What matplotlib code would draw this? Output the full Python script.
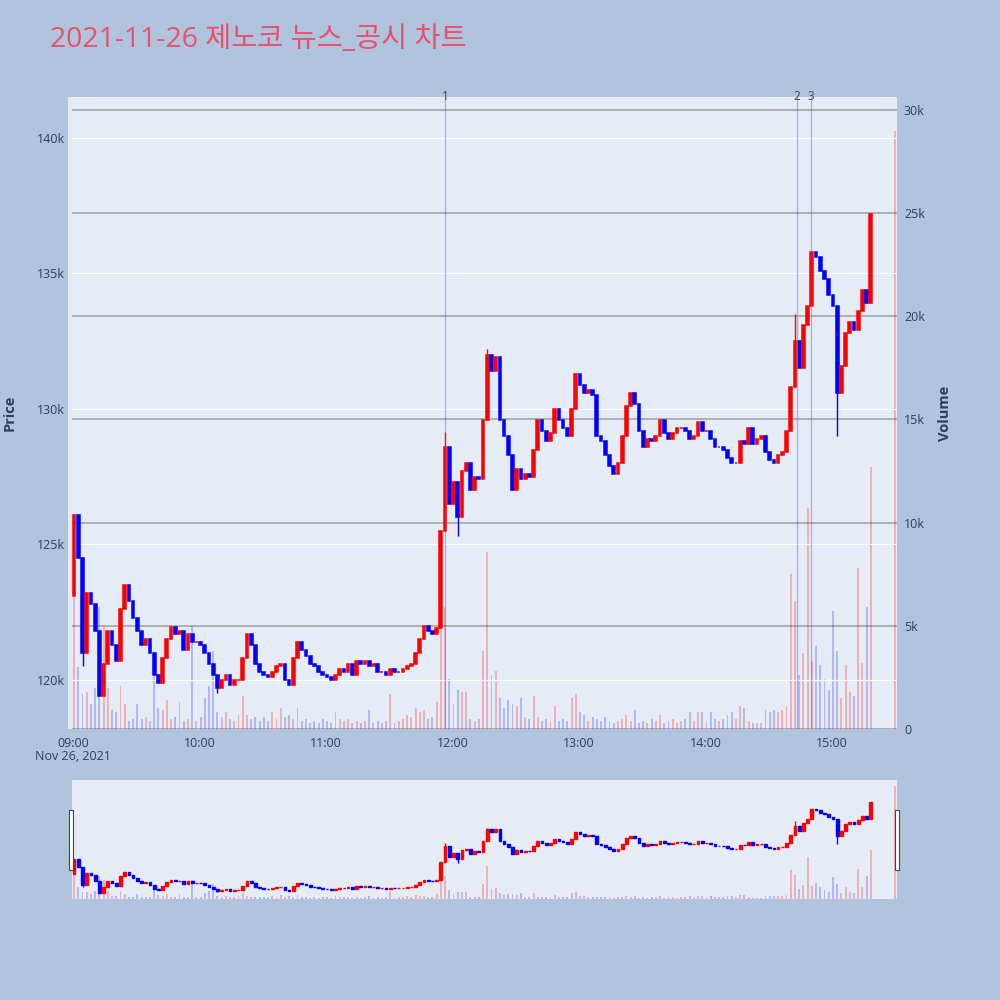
import matplotlib
matplotlib.use('Agg')
import matplotlib.pyplot as plt
from matplotlib.patches import Rectangle
import numpy as np

plt.rcParams['font.family'] = ['Open Sans', 'Noto Sans CJK KR', 'DejaVu Sans']

# ---------------- data ----------------
title = "2021-11-26 제노코 뉴스_공시 차트"
bin_minutes = 2          # each candle = 2 minutes, starting 09:00
first_open = 123.1       # price in thousands of KRW

closes = [
    126.1, 124.5, 121.0, 123.2, 122.8, 121.8, 119.4, 120.6, 121.8, 121.3,
    120.7, 122.6, 123.5, 122.9, 122.3, 121.8, 121.3, 121.5, 121.0, 120.2,
    119.9, 120.8, 121.5, 121.95, 121.7, 121.8, 121.1, 121.7, 121.4, 121.4,
    121.3, 121.0, 120.6, 120.2, 119.7, 120.0, 120.2, 119.8, 120.0, 120.0,
    120.8, 121.7, 121.3, 120.6, 120.3, 120.2, 120.1, 120.3, 120.5, 120.6,
    120.0, 119.8, 120.8, 121.4, 121.1, 120.9, 120.6, 120.5, 120.3, 120.2,
    120.1, 120.0, 120.2, 120.4, 120.3, 120.6, 120.2, 120.7, 120.6, 120.7,
    120.5, 120.6, 120.3, 120.3, 120.2, 120.4, 120.3, 120.3, 120.4, 120.5,
    120.6, 121.0, 121.5, 122.0, 121.8, 121.7, 121.9, 125.5, 128.6, 126.5,
    127.3, 126.0, 127.7, 128.0, 127.0, 127.5, 127.4, 129.6, 132.0, 131.4,
    131.9, 129.6, 129.0, 128.3, 127.0, 127.8, 127.4, 127.6, 127.5, 128.5,
    129.6, 129.2, 128.8, 129.1, 130.0, 129.6, 129.3, 129.0, 130.0, 131.3,
    130.9, 130.6, 130.7, 130.5, 129.0, 128.8, 128.3, 127.9, 127.6, 128.0,
    129.0, 130.1, 130.6, 130.2, 129.2, 128.6, 128.9, 128.8, 129.0, 129.6,
    129.1, 128.9, 129.1, 129.3, 129.3, 129.2, 128.9, 129.0, 129.5, 129.2,
    129.2, 128.9, 128.6, 128.6, 128.5, 128.2, 128.0, 128.0, 128.8, 128.7,
    129.3, 128.7, 128.9, 129.0, 128.4, 128.1, 128.0, 128.3, 128.4, 129.2,
    130.8, 132.5, 131.5, 133.1, 133.8, 135.8, 135.6, 135.1, 134.8, 134.2,
    133.8, 130.6, 131.6, 132.8, 133.2, 132.9, 133.6, 134.4, 133.9, 137.2,
]

volumes = [  # thousands of shares
    6.4, 3.0, 1.7, 1.8, 1.2, 2.0, 5.9, 5.0, 2.0, 0.9,
    0.8, 2.1, 1.2, 0.4, 0.5, 1.2, 0.5, 0.6, 0.4, 2.5,
    1.0, 0.9, 1.4, 0.5, 0.6, 1.3, 0.4, 0.5, 5.0, 0.4,
    0.6, 1.5, 2.1, 3.8, 0.8, 0.6, 0.8, 0.5, 0.4, 0.7,
    1.6, 0.7, 0.5, 0.6, 0.4, 0.6, 0.4, 0.8, 0.5, 1.0,
    0.6, 0.7, 0.5, 1.0, 0.4, 0.5, 0.3, 0.4, 0.3, 0.5,
    0.4, 0.3, 0.8, 0.5, 0.4, 0.5, 0.3, 0.4, 0.3, 0.4,
    0.9, 0.3, 0.4, 0.3, 0.4, 1.7, 0.3, 0.4, 0.5, 0.7,
    0.6, 1.0, 0.8, 0.9, 0.5, 0.6, 1.3, 5.4, 5.9, 2.4,
    1.2, 1.9, 1.8, 1.8, 0.5, 0.4, 0.5, 3.8, 8.6, 2.6,
    2.8, 1.5, 1.0, 1.4, 1.2, 1.1, 1.5, 0.6, 0.5, 1.6,
    0.6, 0.4, 0.5, 0.4, 1.1, 0.4, 0.5, 0.4, 1.5, 1.7,
    0.8, 0.7, 0.4, 0.6, 0.5, 0.4, 0.6, 0.4, 0.3, 0.4,
    0.5, 0.7, 0.4, 0.9, 0.3, 0.4, 0.3, 0.5, 0.4, 0.7,
    0.3, 0.4, 0.5, 0.3, 0.4, 0.5, 0.8, 0.4, 0.8, 0.8,
    0.4, 0.8, 0.5, 0.4, 0.5, 0.7, 0.8, 0.5, 1.1, 1.0,
    0.4, 0.3, 0.3, 0.3, 0.9, 0.8, 0.9, 0.8, 0.9, 1.1,
    7.5, 6.2, 2.6, 3.7, 10.7, 3.3, 4.0, 3.1, 2.4, 1.9,
    5.7, 3.8, 1.5, 3.1, 1.8, 1.6, 7.8, 3.2, 5.9, 12.7,
]

wick_idx = [2, 34, 88, 91, 98, 171, 181]
wick_val = [120.5, 119.5, 129.15, 125.3, 132.2, 133.5, 129.0]

auction_minute = 390      # 15:30 closing auction
auction_volume = 29.0

news_minutes = [176.5, 343.5, 350.0]
news_labels = ['1', '2', '3']

xtick_minutes = [0, 60, 120, 180, 240, 300, 360]
xtick_labels = ['09:00', '10:00', '11:00', '12:00', '13:00', '14:00', '15:00']
date_label = 'Nov 26, 2021'
price_ticks = [120, 125, 130, 135, 140]
volume_ticks = [0, 5, 10, 15, 20, 25, 30]

# ---------------- styling ----------------
PAPER = '#B0C4DE'
PLOT_BG = '#E5ECF6'
TXT = '#2a3f5f'
XLIM = (-0.5, 390.9)
PLIM = (118.19, 141.51)
VLIM = (0, 30.63)

closes_a = np.array(closes)
opens_a = np.r_[first_open, closes_a[:-1]]
up = closes_a >= opens_a
xpos = np.arange(len(closes_a)) * bin_minutes + 0.5
ccol = ['red' if u else 'blue' for u in up]
vcol = [(1, 0, 0, 0.25) if u else (0, 0, 1, 0.22) for u in up]

fig = plt.figure(figsize=(10, 10), dpi=100, facecolor=PAPER)

# small bg strip left of the main plot (plotly overlay offset)
fig.patches.append(Rectangle((0.068, 0.271), 0.004, 0.632, transform=fig.transFigure,
                             facecolor=PLOT_BG, edgecolor='none', zorder=0))


def draw(ax_v, ax_p, lw):
    ax_v.set_facecolor(PLOT_BG)
    ax_p.patch.set_visible(False)
    ax_v.bar(xpos, volumes, width=0.9, color=vcol, linewidth=0, zorder=2)
    ax_v.bar([auction_minute], [auction_volume], width=0.9, color=[(1, 0, 0, 0.25)],
             linewidth=0, zorder=2)
    ax_p.bar(xpos, closes_a - opens_a, bottom=opens_a, width=1.3, color=ccol,
             edgecolor=ccol, linewidth=lw, zorder=3)
    for i, v in zip(wick_idx, wick_val):
        ax_p.vlines(xpos[i], min(v, opens_a[i], closes_a[i]), max(v, opens_a[i], closes_a[i]),
                    color=ccol[i], linewidth=1.0, zorder=3)
    ax_v.set_xlim(*XLIM)
    ax_v.set_ylim(*VLIM)
    ax_p.set_ylim(*PLIM)
    for a in (ax_v, ax_p):
        for s in a.spines.values():
            s.set_visible(False)


# ---------------- main chart ----------------
ax_v = fig.add_axes([0.072, 0.271, 0.825, 0.632])
ax_p = ax_v.twinx()
draw(ax_v, ax_p, lw=1.1)

for t in volume_ticks:
    ax_v.axhline(t, color='#aaaaaa', linewidth=1.3, zorder=1)
for t in price_ticks:
    ax_p.axhline(t, color='white', linewidth=0.9, zorder=1)

ax_v.yaxis.tick_right()
ax_p.yaxis.tick_left()
ax_v.set_yticks(volume_ticks)
ax_v.set_yticklabels(['0' if t == 0 else f'{t}k' for t in volume_ticks])
ax_p.set_yticks(price_ticks)
ax_p.set_yticklabels([f'{t}k' for t in price_ticks])
ax_v.set_xticks(xtick_minutes)
ax_v.set_xticklabels(xtick_labels)
for a in (ax_v, ax_p):
    a.tick_params(length=0, labelsize=9, labelcolor=TXT, pad=5)
ax_v.tick_params(axis='x', pad=6)

for m in news_minutes:
    ax_p.axvline(m, color='#4169E1', linewidth=0.9, alpha=0.45, zorder=4)
for m, lab in zip(news_minutes, news_labels):
    ax_p.text(m, 1.0, lab, transform=ax_p.get_xaxis_transform(), ha='center', va='center',
              fontsize=8.5, color='#444444', clip_on=False, zorder=5)

fig.text(0.073, 0.243, date_label, ha='center', va='center', fontsize=9, color=TXT)
fig.text(0.010, 0.587, 'Price', rotation=90, ha='center', va='center', fontsize=10.5,
         fontweight='bold', color=TXT)
fig.text(0.945, 0.587, 'Volume', rotation=90, ha='center', va='center', fontsize=10.5,
         fontweight='bold', color=TXT)
fig.text(0.05, 0.960, title, ha='left', va='center', fontsize=20.4, color='#E9506A')

# ---------------- range slider ----------------
ax_s = fig.add_axes([0.072, 0.101, 0.825, 0.119])
ax_s2 = ax_s.twinx()
draw(ax_s, ax_s2, lw=1.0)
for a in (ax_s, ax_s2):
    a.set_xticks([])
    a.set_yticks([])

for hx in (0.0685, 0.8945):
    fig.patches.append(Rectangle((hx, 0.130), 0.004, 0.060, transform=fig.transFigure,
                                 facecolor='white', edgecolor='#444444', linewidth=0.8,
                                 zorder=10))

fig.savefig('out.png', dpi=100, facecolor=PAPER)
